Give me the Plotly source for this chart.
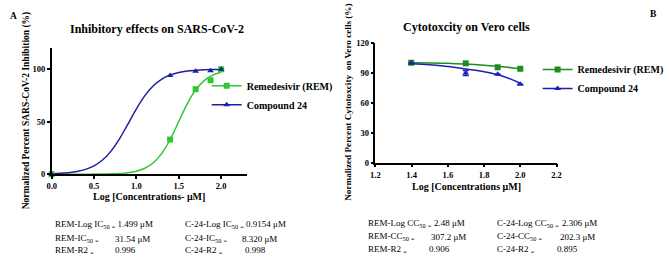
import plotly.graph_objects as go

W, H = 669, 259

# ---------------- Data: Panel A (inhibition) ----------------
a_x = [0.0, 1.398, 1.699, 1.875, 2.0]
a_rem = [0.0, 33.0, 81.0, 89.5, 100.0]
a_c24 = [0.0, 94.0, 98.0, 98.5, 100.0]

a_fit_x = [0.0, 0.1, 0.2, 0.3, 0.4, 0.5, 0.6, 0.7, 0.8, 0.9, 1.0,
           1.1, 1.2, 1.3, 1.4, 1.5, 1.6, 1.7, 1.8, 1.9, 2.0]
a_fit_rem = [0.0, 0.0, 0.01, 0.02, 0.04, 0.09, 0.18, 0.36, 0.73, 1.46, 2.9,
             5.7, 10.9, 19.8, 33.3, 50.2, 67.0, 80.4, 89.2, 94.4, 97.1]
a_fit_c24 = [0.45, 0.81, 1.46, 2.6, 4.6, 8.0, 13.5, 22.0, 33.7, 47.8, 62.3,
             74.9, 84.3, 90.7, 94.6, 96.9, 98.3, 99.0, 99.5, 99.7, 99.8]

a_xticks = [0.0, 0.5, 1.0, 1.5, 2.0]
a_xticklabels = ["0.0", "0.5", "1.0", "1.5", "2.0"]
a_yticks = [0, 50, 100]

# ---------------- Data: Panel B (cytotoxicity) ----------------
b_x = [1.398, 1.699, 1.875, 2.0]
b_rem = [100.0, 99.4, 95.5, 94.0]
b_c24 = [99.5, 89.8, 88.5, 78.6]
b_c24_err = [0.0, 2.5, 0.0, 0.0]

b_fit_x = [1.398, 1.5, 1.6, 1.7, 1.8, 1.9, 2.0]
b_fit_rem = [100.0, 99.8, 99.4, 98.8, 97.6, 96.0, 94.0]
b_fit_c24 = [99.1, 98.0, 96.2, 93.7, 91.0, 86.8, 79.5]

b_xticks = [1.2, 1.4, 1.6, 1.8, 2.0, 2.2]
b_xticklabels = ["1.2", "1.4", "1.6", "1.8", "2.0", "2.2"]
b_yticks = [0, 30, 60, 90, 120]

# ---------------- Text ----------------
series_names = ["Remedesivir (REM)", "Compound 24"]
title_a = "Inhibitory effects on SARS-CoV-2"
title_b = "Cytotoxcity on Vero cells"
xlab_a = "Log [Concentrations- μM]"
xlab_b = "Log [Concentrations μM]"
ylab_a = "Normalized Percent SARS-CoV-2 Inhibition (%)"
ylab_b = "Normalized Percent Cytotoxcity  on Vero cells (%)"

EQ = "<sub>=</sub>"
stats_a_left = [("REM-Log IC<sub>50</sub> " + EQ + " 1.499 μM", ""),
                ("REM-IC<sub>50</sub> " + EQ, "31.54 μM"),
                ("REM-R2 " + EQ, "0.996")]
stats_a_right = [("C-24-Log IC<sub>50</sub> " + EQ + " 0.9154 μM", ""),
                 ("C-24-IC<sub>50</sub> " + EQ, "8.320 μM"),
                 ("C-24-R2 " + EQ, "0.998")]
stats_b_left = [("REM-Log CC<sub>50</sub> " + EQ, "2.48 μM"),
                ("REM-CC<sub>50</sub> " + EQ, "307.2 μM"),
                ("REM-R2 " + EQ, "0.906")]
stats_b_right = [("C-24-Log CC<sub>50</sub> " + EQ, "2.306 μM"),
                 ("C-24-CC<sub>50</sub> " + EQ, "202.3 μM"),
                 ("C-24-R2 " + EQ, "0.895")]

FONT = "Liberation Serif, Times New Roman, serif"
GA, BA = "#33c633", "#1f1f9e"   # panel A colours
GB, BB = "#1e8c1e", "#1e1eb4"   # panel B colours


def bfont(size):
    return dict(family=FONT, size=size, color="black", weight="bold")


def px(x):
    return x / W


def py(y):
    return 1 - y / H


def gapped(xs, ys):
    # points separated by gaps so no connecting segment is drawn,
    # while the legend still shows a line through the marker
    gx, gy = [], []
    for xv, yv in zip(xs, ys):
        gx += [xv, None]
        gy += [yv, None]
    return gx, gy


fig = go.Figure()

fig.add_trace(go.Scatter(x=a_fit_x, y=a_fit_rem, mode="lines", line=dict(color=GA, width=1.5, shape="spline"),
                         showlegend=False, xaxis="x", yaxis="y", cliponaxis=False, hoverinfo="skip"))
fig.add_trace(go.Scatter(x=a_fit_x, y=a_fit_c24, mode="lines", line=dict(color=BA, width=1.5, shape="spline"),
                         showlegend=False, xaxis="x", yaxis="y", cliponaxis=False, hoverinfo="skip"))
gx, gy = gapped(a_x, a_rem)
fig.add_trace(go.Scatter(x=gx, y=gy, mode="lines+markers", name=series_names[0],
                         line=dict(color=GA, width=1.5),
                         marker=dict(symbol="square", size=6, color=GA), connectgaps=False,
                         xaxis="x", yaxis="y", cliponaxis=False, legend="legend"))
gx, gy = gapped(a_x, a_c24)
fig.add_trace(go.Scatter(x=gx, y=gy, mode="lines+markers", name=series_names[1],
                         line=dict(color=BA, width=1.5),
                         marker=dict(symbol="triangle-up", size=6, color=BA), connectgaps=False,
                         xaxis="x", yaxis="y", cliponaxis=False, legend="legend"))

fig.add_trace(go.Scatter(x=b_fit_x, y=b_fit_rem, mode="lines", line=dict(color=GB, width=1.5, shape="spline"),
                         showlegend=False, xaxis="x2", yaxis="y2", cliponaxis=False, hoverinfo="skip"))
fig.add_trace(go.Scatter(x=b_fit_x, y=b_fit_c24, mode="lines", line=dict(color=BB, width=1.5, shape="spline"),
                         showlegend=False, xaxis="x2", yaxis="y2", cliponaxis=False, hoverinfo="skip"))
gx, gy = gapped(b_x, b_rem)
fig.add_trace(go.Scatter(x=gx, y=gy, mode="lines+markers", name=series_names[0],
                         line=dict(color=GB, width=1.5),
                         marker=dict(symbol="square", size=6, color=GB), connectgaps=False,
                         xaxis="x2", yaxis="y2", cliponaxis=False, legend="legend2"))
gx, gy = gapped(b_x, b_c24)
ge = []
for e in b_c24_err:
    ge += [e, 0]
fig.add_trace(go.Scatter(x=gx, y=gy, mode="lines+markers", name=series_names[1],
                         line=dict(color=BB, width=1.5),
                         marker=dict(symbol="triangle-up", size=6, color=BB), connectgaps=False,
                         error_y=dict(type="data", array=ge, color=BB, thickness=1.5, width=3),
                         xaxis="x2", yaxis="y2", cliponaxis=False, legend="legend2"))

axis_common = dict(showline=True, linecolor="black", linewidth=1.5, ticks="outside", ticklen=3,
                   tickwidth=1.5, tickcolor="black", showgrid=False, zeroline=False,
                   tickfont=bfont(8.5))

fig.update_layout(
    width=W, height=H, margin=dict(l=0, r=0, t=0, b=0),
    paper_bgcolor="white", plot_bgcolor="white",
    xaxis=dict(domain=[px(47.7), px(246.7)], range=[0, 2.3], tickvals=a_xticks, ticktext=a_xticklabels,
               anchor="y", **axis_common),
    yaxis=dict(domain=[py(176), py(45)], range=[0, 120], tickvals=a_yticks, anchor="x", **axis_common),
    xaxis2=dict(domain=[px(378.3), px(563.3)], range=[1.2, 2.2], tickvals=b_xticks, ticktext=b_xticklabels,
                anchor="y2", **axis_common),
    yaxis2=dict(domain=[py(164), py(39.3)], range=[0, 120], tickvals=b_yticks, anchor="x2", **axis_common),
    legend=dict(x=px(206), y=py(69), xanchor="left", yanchor="top", bgcolor="rgba(0,0,0,0)",
                font=bfont(10), itemwidth=30, tracegroupgap=0),
    legend2=dict(x=px(544), y=py(52), xanchor="left", yanchor="top", bgcolor="rgba(0,0,0,0)",
                 font=bfont(10), itemwidth=30, tracegroupgap=0),
)

ann = []


def text(x, y, s, size=9.0, bold=False, xanchor="left", angle=0):
    if not s:
        return
    f = bfont(size) if bold else dict(family=FONT, size=size, color="black")
    ann.append(dict(x=px(x), y=py(y), xref="paper", yref="paper", text=s, showarrow=False,
                    xanchor=xanchor, yanchor="middle", textangle=angle, font=f))


text(155, 25, title_a, size=12, bold=True, xanchor="center")
text(471, 23, title_b, size=12, bold=True, xanchor="center")
text(147, 199, xlab_a, size=10, bold=True, xanchor="center")
text(471, 189, xlab_b, size=10, bold=True, xanchor="center")
text(22, 110, ylab_a, size=9.5, bold=True, xanchor="center", angle=-90)
text(350, 101, ylab_b, size=9.2, bold=True, xanchor="center", angle=-90)
text(3, 11, "A", size=9.5, bold=True)
text(657, 9, "B", size=9.5, bold=True)

rows_a = [228, 243, 255]
rows_b = [227, 241, 254]
valx_a_left = [0, 110, 110]
valx_a_right = [0, 240, 243]
valx_b_left = [436, 433, 431]
valx_b_right = [567, 565, 562]
for i in range(3):
    text(49, rows_a[i], stats_a_left[i][0])
    text(valx_a_left[i], rows_a[i], stats_a_left[i][1])
    text(182, rows_a[i], stats_a_right[i][0])
    text(valx_a_right[i], rows_a[i], stats_a_right[i][1])
    text(369, rows_b[i], stats_b_left[i][0])
    text(valx_b_left[i], rows_b[i], stats_b_left[i][1])
    text(500, rows_b[i], stats_b_right[i][0])
    text(valx_b_right[i], rows_b[i], stats_b_right[i][1])

fig.update_layout(annotations=ann)
# remove the browser's default 8px page margin so the figure sits at the window origin
fig.write_html("out.html", config={"displayModeBar": False},
               post_script="document.body.style.margin='0';document.body.style.overflow='hidden';")
